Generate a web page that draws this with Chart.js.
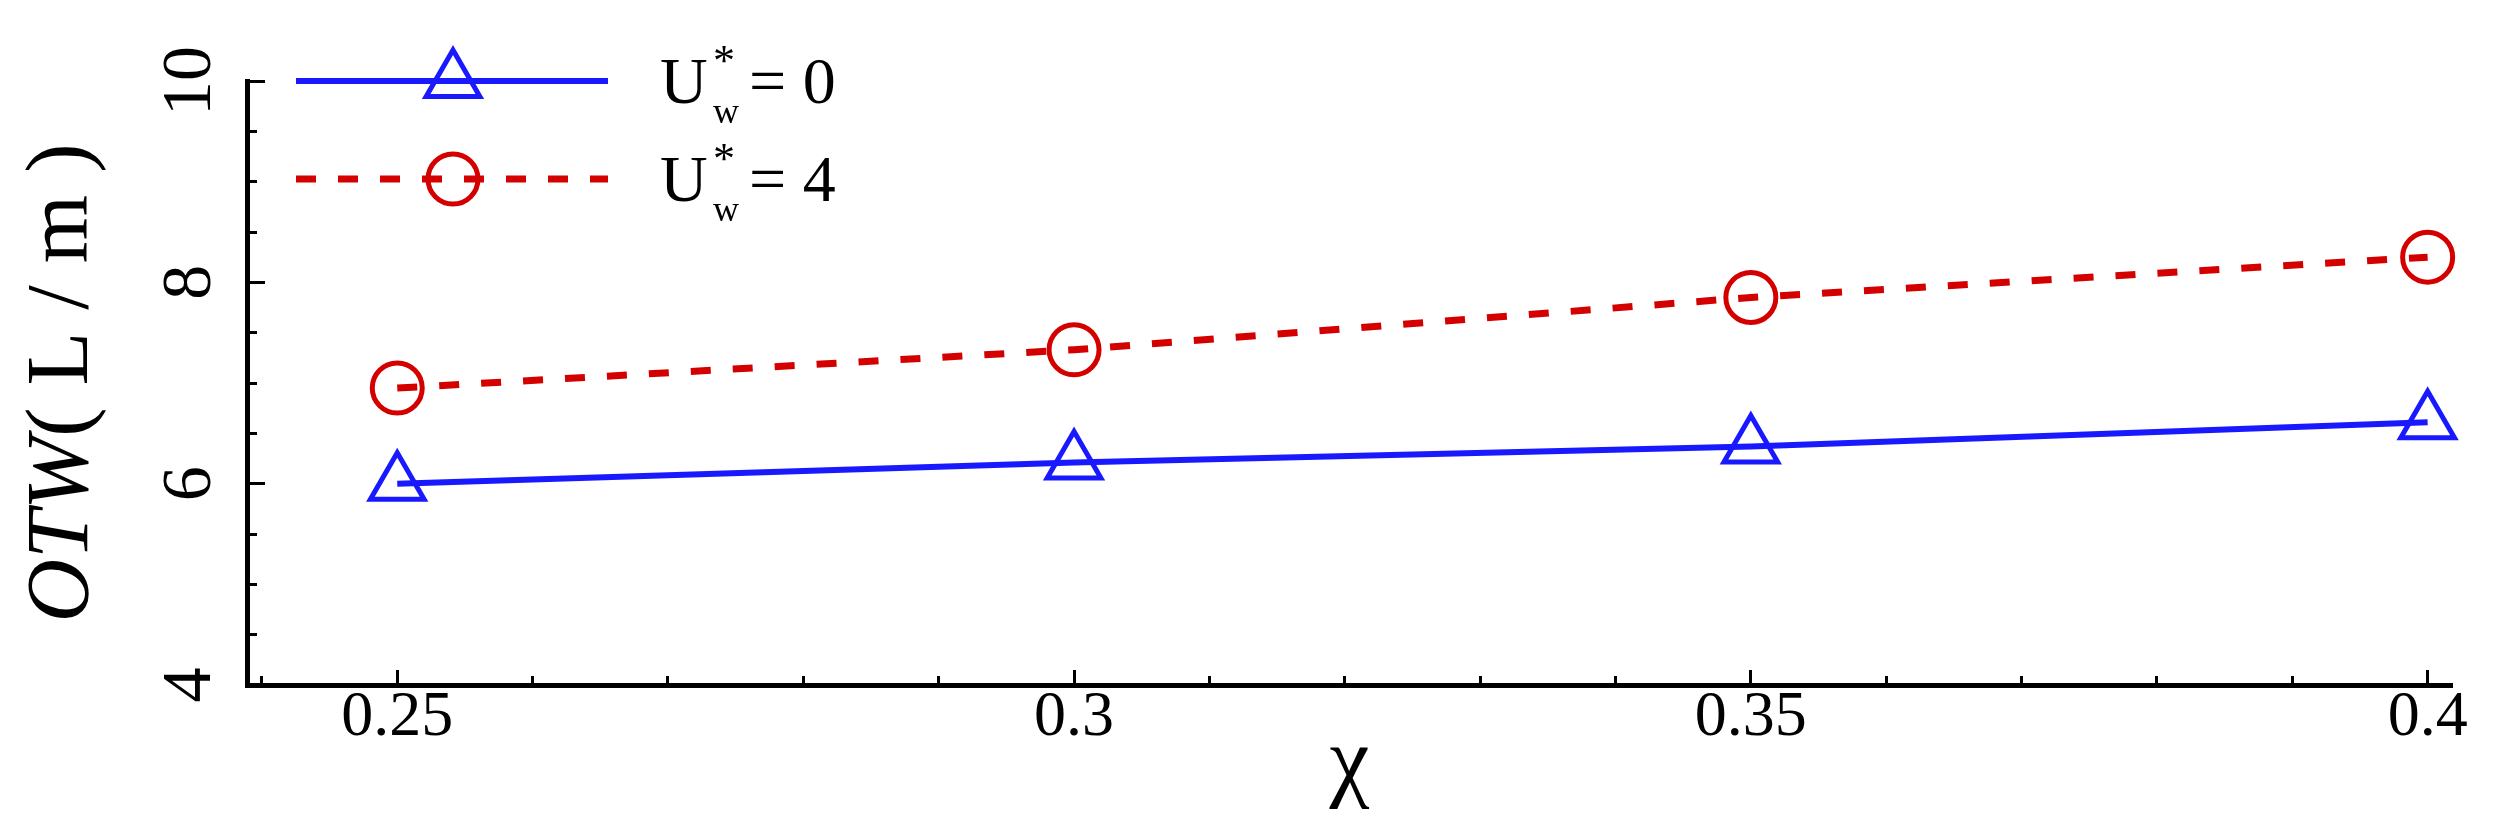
<!DOCTYPE html>
<html>
<head>
<meta charset="UTF-8">
<title>OTW vs chi</title>
<script src="https://cdn.jsdelivr.net/npm/chart.js@4.4.1/dist/chart.umd.min.js"></script>
<style>
  body { margin: 0; background: #fff; }
  canvas { display: block; }
</style>
</head>
<body>
<canvas id="myChart" width="2499" height="834"></canvas>
<script>
// values
var chi = [0.25, 0.3, 0.35, 0.4];
var otwU0 = [6.00, 6.21, 6.37, 6.61];
var otwU4 = [6.95, 7.33, 7.85, 8.25];
var uwValues = ['0', '4'];

var xMin = 0.2389, xMax = 0.4018;
var xMajorStep = 0.05, xMinorStep = 0.01;
var yMin = 4, yMax = 10;
var yMajorStep = 2, yMinorStep = 0.5;

var serif = "'Liberation Serif', 'Times New Roman', serif";
var blue = 'rgb(25,25,255)';
var red = 'rgb(212,0,0)';

function points(ys) {
    return chi.map(function(x, i) { return {x: x, y: ys[i]}; });
}

// y title with italic OTW + legend with sub/superscripts
var figText = {
    id: 'figText',
    afterDraw: function(chart) {
        var ctx = chart.ctx;
        var area = chart.chartArea;
        ctx.save();
        ctx.fillStyle = '#000';
        ctx.translate(64, (area.top + area.bottom) / 2);
        ctx.rotate(-Math.PI / 2);
        ctx.textBaseline = 'middle';
        ctx.textAlign = 'left';
        var f1 = 'italic 88px ' + serif, f2 = '88px ' + serif;
        ctx.font = f1;
        var w1 = ctx.measureText('OTW').width;
        ctx.font = f2;
        var w2 = ctx.measureText('( L / m )').width;
        var x0 = -(w1 + w2) / 2;
        ctx.font = f1;
        ctx.fillText('OTW', x0, 0);
        ctx.font = f2;
        ctx.fillText('( L / m )', x0 + w1, 0);
        ctx.restore();

        var rows = [81, 179];
        chart.data.datasets.forEach(function(ds, i) {
            var y = rows[i];
            ctx.save();
            ctx.strokeStyle = ds.borderColor;
            ctx.lineWidth = ds.borderWidth;
            ctx.setLineDash(ds.borderDash || []);
            ctx.beginPath();
            ctx.moveTo(296, y);
            ctx.lineTo(608, y);
            ctx.stroke();
            ctx.setLineDash([]);
            ctx.lineWidth = ds.pointBorderWidth;
            var r = ds.pointRadius, cx = 453;
            ctx.beginPath();
            if (ds.pointStyle === 'triangle') {
                var a = Math.PI * 2 / 3;
                ctx.moveTo(cx, y - r);
                ctx.lineTo(cx + Math.sin(a) * r, y - Math.cos(a) * r);
                ctx.lineTo(cx + Math.sin(2 * a) * r, y - Math.cos(2 * a) * r);
                ctx.closePath();
            } else {
                ctx.arc(cx, y, r, 0, Math.PI * 2);
            }
            ctx.stroke();

            ctx.fillStyle = '#000';
            ctx.textAlign = 'left';
            ctx.textBaseline = 'alphabetic';
            ctx.font = '66px ' + serif;
            ctx.fillText('U', 660, y + 22);
            ctx.font = '44px ' + serif;
            ctx.fillText('*', 713, y - 6);
            ctx.font = '36px ' + serif;
            ctx.fillText('w', 713, y + 42);
            ctx.font = '66px ' + serif;
            ctx.fillText('= ' + uwValues[i], 749, y + 22);
            ctx.restore();
        });
    }
};

var ctx = document.getElementById('myChart').getContext('2d');
var chart = new Chart(ctx, {
    type: 'line',
    data: {
        datasets: [{
            label: 'U*w = ' + uwValues[0],
            data: points(otwU0),
            borderColor: blue,
            backgroundColor: 'rgba(0,0,0,0)',
            borderWidth: 6,
            pointStyle: 'triangle',
            pointRadius: 31,
            pointBorderWidth: 5,
            pointBorderColor: blue,
            pointBackgroundColor: 'rgba(0,0,0,0)',
            tension: 0,
            clip: false,
            xAxisID: 'x',
            yAxisID: 'y'
        }, {
            label: 'U*w = ' + uwValues[1],
            data: points(otwU4),
            borderColor: red,
            backgroundColor: 'rgba(0,0,0,0)',
            borderWidth: 7,
            borderDash: [20, 22],
            pointStyle: 'circle',
            pointRadius: 25,
            pointBorderWidth: 5,
            pointBorderColor: red,
            pointBackgroundColor: 'rgba(0,0,0,0)',
            tension: 0,
            clip: false,
            xAxisID: 'x',
            yAxisID: 'y'
        }]
    },
    options: {
        responsive: false,
        animation: false,
        layout: { padding: { top: 81, right: 47, bottom: 0, left: 0 } },
        plugins: {
            legend: { display: false },
            tooltip: { enabled: false }
        },
        scales: {
            x: {
                type: 'linear',
                position: 'bottom',
                weight: 2,
                min: xMin,
                max: xMax,
                ticks: {
                    stepSize: xMajorStep,
                    includeBounds: false,
                    autoSkip: false,
                    maxRotation: 0,
                    padding: 10,
                    color: '#000',
                    font: { family: serif, size: 64 },
                    callback: function(v) { return String(+v.toFixed(2)); }
                },
                grid: { drawOnChartArea: false, tickLength: -15, tickWidth: 3, tickColor: '#000' },
                border: { display: true, color: '#000', width: 5 },
                title: {
                    display: true,
                    text: 'χ',
                    color: '#000',
                    font: { family: serif, size: 90 },
                    padding: { top: 0, bottom: 14 }
                },
                afterFit: function(s) { s.height = 149; }
            },
            x2: {
                type: 'linear',
                position: 'bottom',
                weight: 1,
                min: xMin,
                max: xMax,
                ticks: { display: false, stepSize: xMinorStep, includeBounds: false },
                grid: { drawOnChartArea: false, tickLength: -9, tickWidth: 3, tickColor: '#000' },
                border: { display: false },
                afterFit: function(s) { s.height = 0; }
            },
            y: {
                type: 'linear',
                position: 'left',
                weight: 2,
                min: yMin,
                max: yMax,
                ticks: {
                    stepSize: yMajorStep,
                    minRotation: 90,
                    maxRotation: 90,
                    crossAlign: 'center',
                    padding: 38,
                    color: '#000',
                    font: { family: serif, size: 70 }
                },
                grid: { drawOnChartArea: false, tickLength: -18, tickWidth: 3, tickColor: '#000' },
                border: { display: true, color: '#000', width: 5 },
                afterFit: function(s) { s.width = 247; }
            },
            y2: {
                type: 'linear',
                position: 'left',
                weight: 1,
                min: yMin,
                max: yMax,
                ticks: { display: false, stepSize: yMinorStep },
                grid: { drawOnChartArea: false, tickLength: -10, tickWidth: 3, tickColor: '#000' },
                border: { display: false },
                afterFit: function(s) { s.width = 0; }
            }
        }
    },
    plugins: [figText]
});
</script>
</body>
</html>
